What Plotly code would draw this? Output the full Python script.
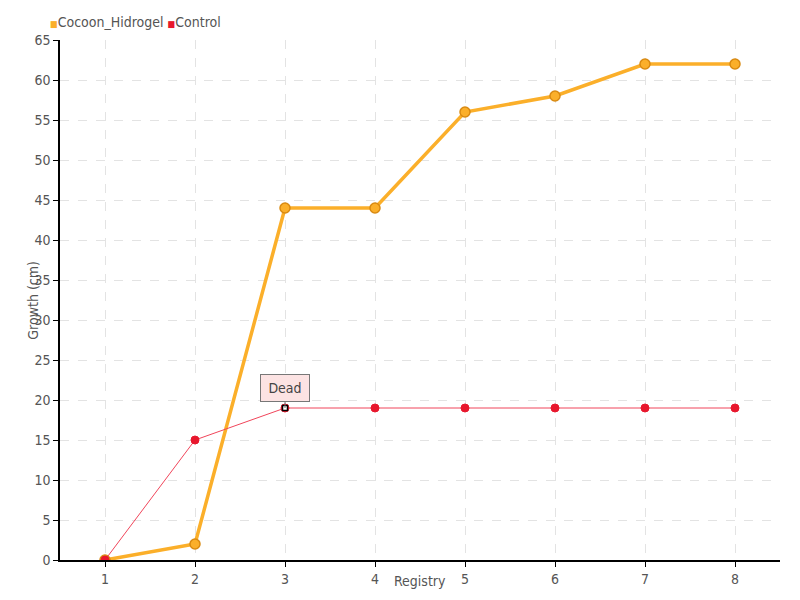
import plotly.graph_objects as go

registry = [1, 2, 3, 4, 5, 6, 7, 8]
cocoon_hidrogel = [0, 2, 44, 44, 56, 58, 62, 62]
control = [0, 15, 19, 19, 19, 19, 19, 19]
y_ticks = list(range(0, 70, 5))

FONT = "DejaVu Sans Condensed"
ORANGE = "#FBAF2A"
ORANGE_DARK = "#D98A12"
RED = "#E8172D"
RED_LINE = "#F0455A"

fig = go.Figure()
fig.add_trace(go.Scatter(
    x=registry, y=cocoon_hidrogel, name="Cocoon_Hidrogel", mode="lines+markers",
    line=dict(color=ORANGE, width=3.5), showlegend=False,
    marker=dict(color=ORANGE, size=10, line=dict(color=ORANGE_DARK, width=1.5)),
))
fig.add_trace(go.Scatter(
    x=registry, y=control, name="Control", mode="lines+markers",
    line=dict(color=RED_LINE, width=1), showlegend=False,
    marker=dict(color=RED, size=8, line=dict(color=RED, width=1)),
))
# highlighted point
fig.add_trace(go.Scatter(
    x=[registry[2]], y=[control[2]], mode="markers", showlegend=False, hoverinfo="skip",
    marker=dict(color="white", size=5, symbol="square", line=dict(color="black", width=1.5)),
))

fig.add_annotation(
    x=registry[2], y=control[2], text="Dead", showarrow=True, arrowhead=0, arrowwidth=1,
    arrowcolor="#777", ax=0, ay=-20, bgcolor="#FCE3E3", bordercolor="#777", borderwidth=1,
    borderpad=5, width=38, font=dict(family=FONT, size=14, color="#444"),
)

# legend drawn as text
fig.add_annotation(
    xref="paper", yref="paper", x=-0.016, y=1.034, xanchor="left", yanchor="middle",
    showarrow=False,
    text=("<span style='color:%s;font-size:9px'>■</span>Cocoon_Hidrogel "
          "<span style='color:%s;font-size:9px'>■</span>Control") % (ORANGE, RED),
    font=dict(family=FONT, size=14, color="#555"),
)

# axis titles
fig.add_annotation(
    xref="paper", yref="paper", x=0.5, y=-0.04, xanchor="center", yanchor="middle",
    showarrow=False, text="Registry", font=dict(family=FONT, size=14, color="#555"),
)
fig.add_annotation(
    xref="paper", yref="paper", x=-0.038, y=0.5, xanchor="center", yanchor="middle",
    showarrow=False, text="Growth (cm)", textangle=-90,
    font=dict(family=FONT, size=14, color="#555"),
)

# page body has an 8px offset; margins compensate so the plot area sits at 60..780 x 40..560
fig.update_layout(
    width=800, height=600,
    margin=dict(l=52, r=28, t=32, b=48),
    paper_bgcolor="white", plot_bgcolor="white",
    font=dict(family=FONT, size=14, color="#555"),
    showlegend=False,
)
fig.update_xaxes(
    range=[0.5, 8.5], tickvals=registry, ticktext=[str(v) for v in registry],
    showline=True, linecolor="black", linewidth=1.5, ticks="outside", ticklen=5,
    tickcolor="black", showgrid=True, gridcolor="#E3E3E3", griddash="dash", zeroline=False,
    automargin=False,
)
fig.update_yaxes(
    range=[0, 65], tickvals=y_ticks,
    showline=True, linecolor="black", linewidth=1.5, ticks="outside", ticklen=5,
    tickcolor="black", showgrid=True, gridcolor="#E3E3E3", griddash="dash", zeroline=False,
    automargin=False,
)

fig.write_html("out.html")
